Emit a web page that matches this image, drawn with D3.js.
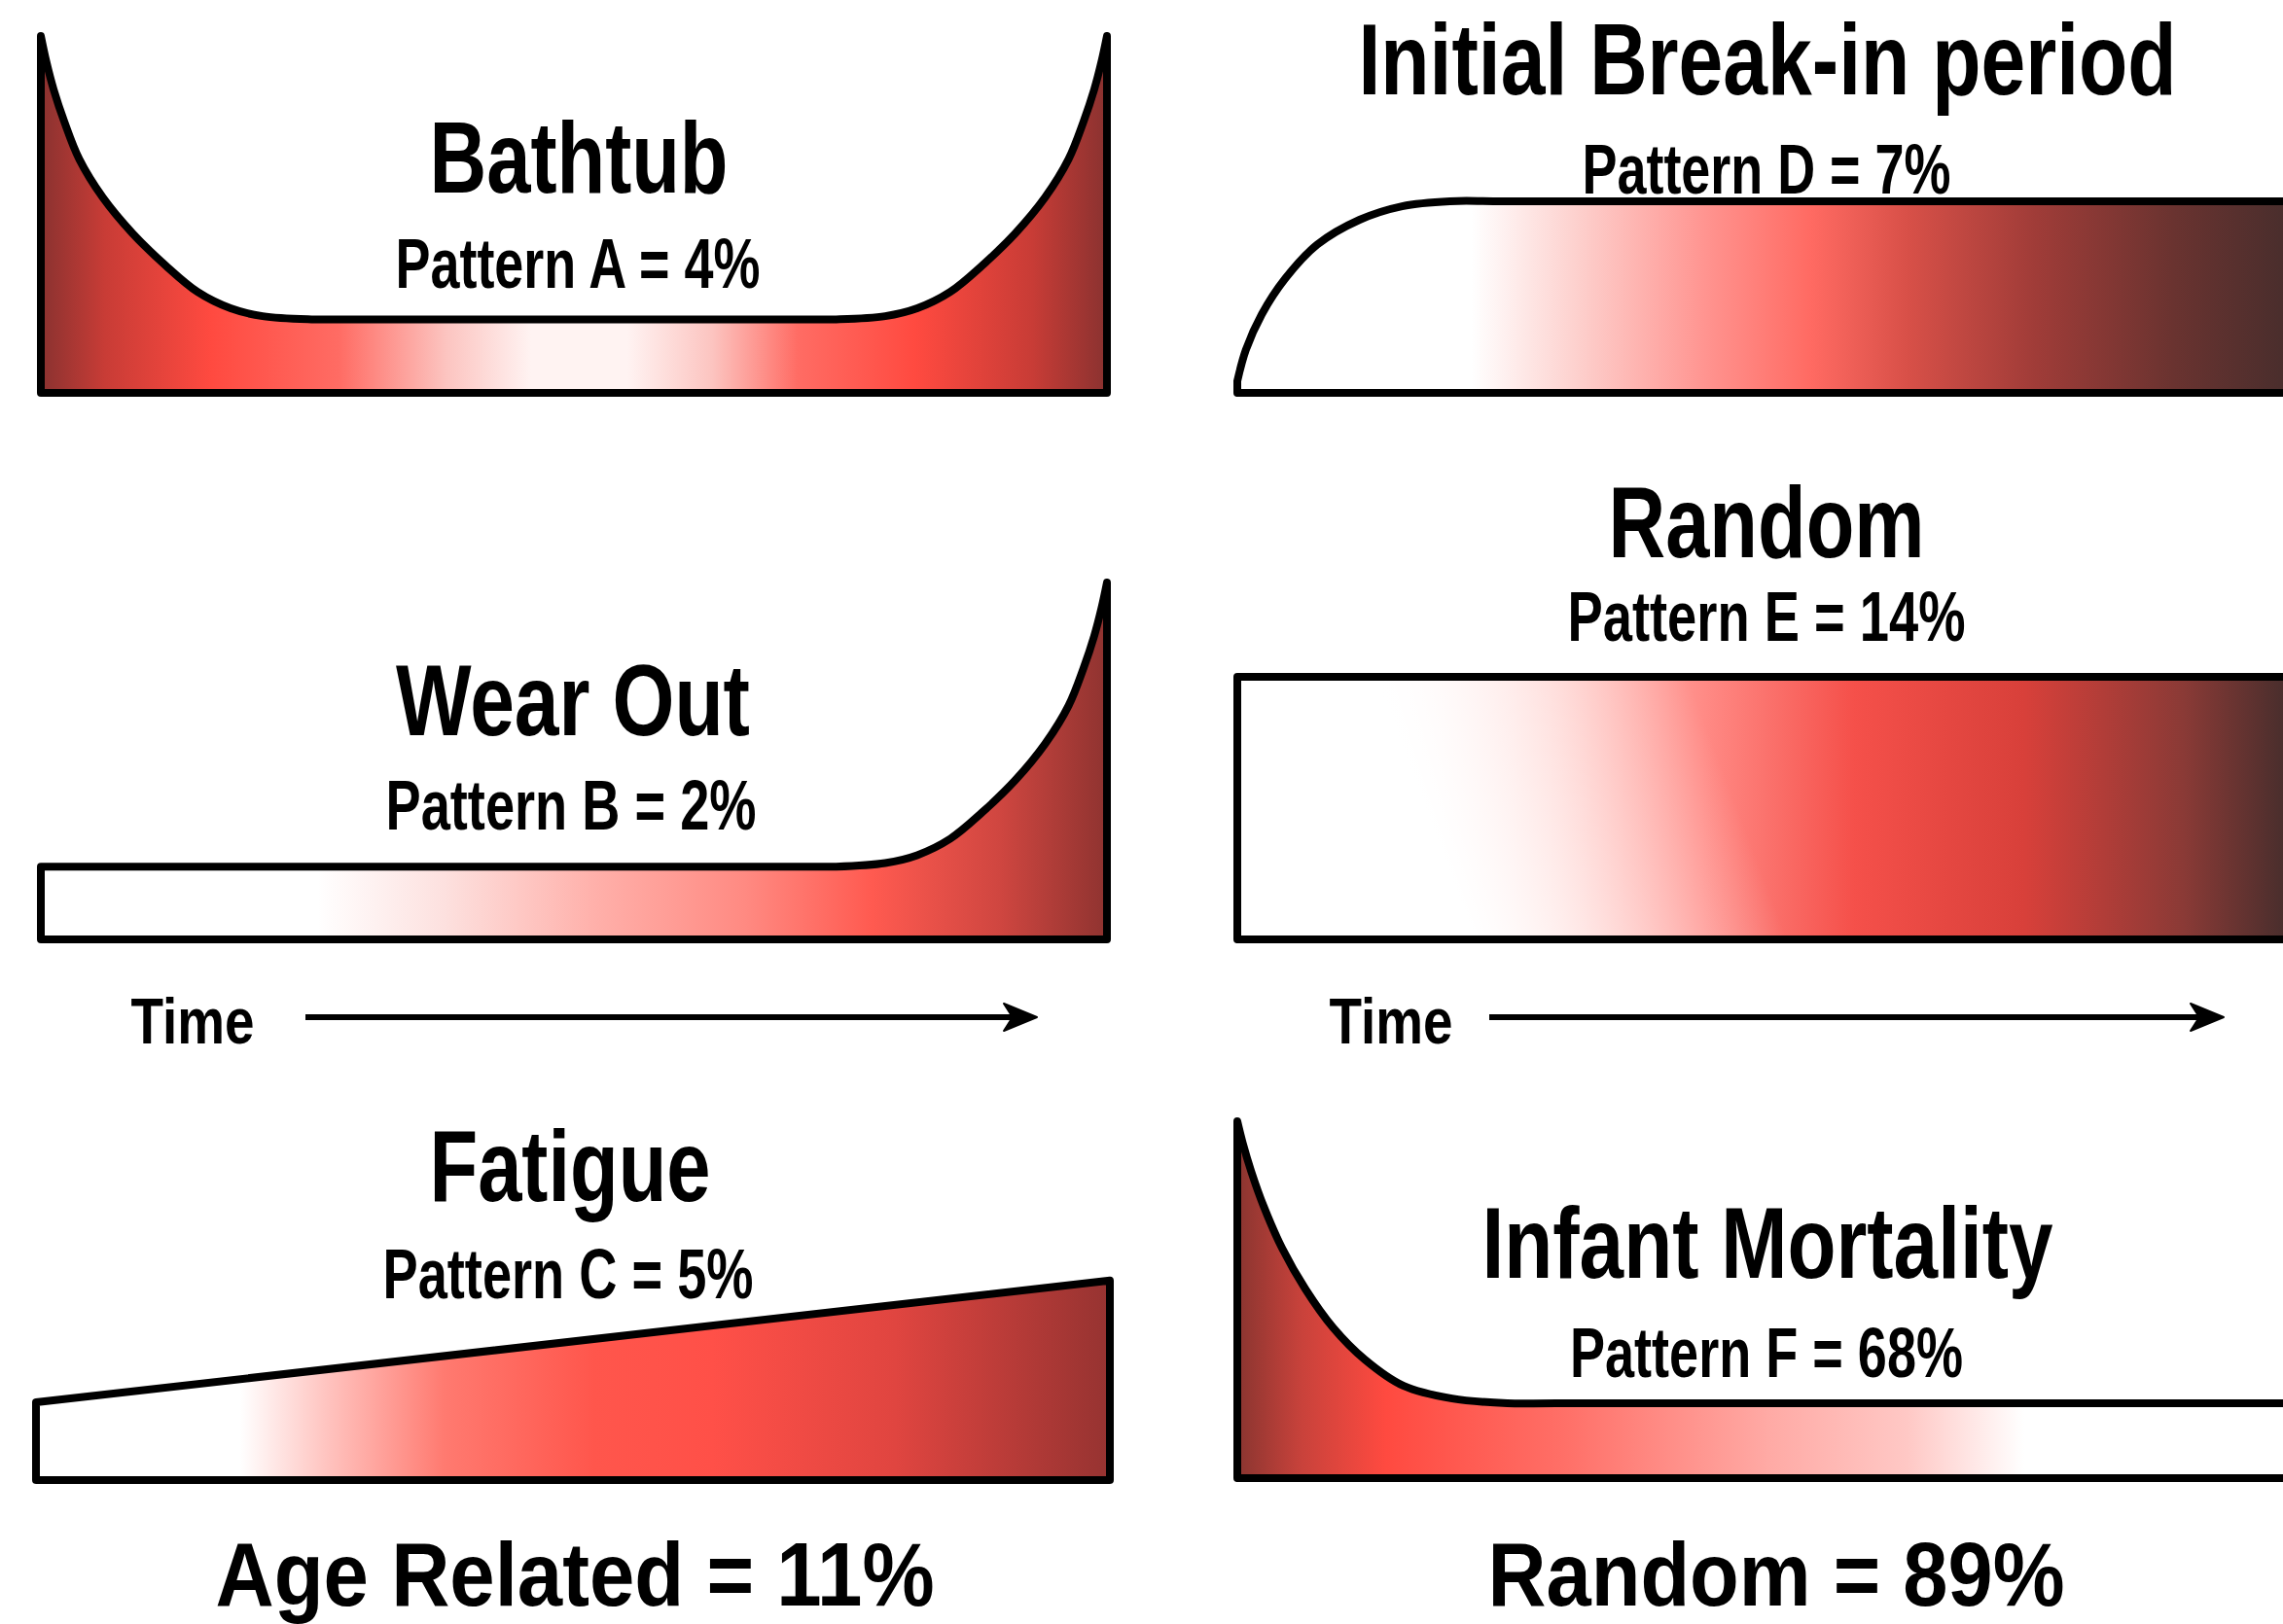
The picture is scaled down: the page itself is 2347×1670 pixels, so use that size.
<!DOCTYPE html>
<html>
<head>
<meta charset="utf-8">
<script src="https://cdn.jsdelivr.net/npm/d3@7"></script>
<style>
body { margin: 0; background: #fff; }
svg { display: block; }
</style>
</head>
<body>
<script>
// six failure patterns, share of components
var patternNames = ["Bathtub", "Wear Out", "Fatigue", "Initial Break-in period", "Random", "Infant Mortality"];
var patternCodes = ["A", "B", "C", "D", "E", "F"];
var patternShares = [4, 2, 5, 7, 14, 68];
var groupNames = ["Age Related", "Random"];
var groupShares = [11, 89];
var axisLabel = "Time";

// conditional probability of failure (0-100) against time (0-100)
var curveA = [[0,100],[0.5,93],[1.2,85],[2.2,76],[3.6,65.5],[5.8,54.8],[8.6,44.7],[11.7,35.7],[14.7,28.3],[17.8,23.7],[20.8,21.5],[25.4,20.6],[30,20.6],
              [70,20.6],[74.6,20.6],[79.2,21.5],[82.2,23.7],[85.3,28.3],[88.3,35.7],[91.4,44.7],[94.2,54.8],[96.4,65.5],[97.8,76],[98.8,85],[99.5,93],[100,100]];
var curveB = [[0,20.4],[70,20.4],[74.6,20.4],[79.2,21.4],[82.2,23.6],[85.3,28.2],[88.3,35.6],[91.4,44.6],[94.2,54.8],[96.4,65.5],[97.8,76],[98.8,85],[99.5,93],[100,100]];
var curveC = [[0,21.8],[100,55.9]];
var curveD = [[0,3.3],[0.8,12],[2.3,22],[4.5,32],[7.5,41.5],[11.5,48.5],[15.5,52.3],[20,53.7],[25,53.7],[100,53.7]];
var curveE = [[0,73.6],[100,73.6]];
var curveF = [[0,100],[0.5,94],[1.3,86],[2.5,76],[4.2,64.5],[6.4,53],[9,42.2],[12,33.2],[15.6,25.9],[20.2,22.3],[25.4,21],[30,21],[100,21]];
var curves = [curveA, curveB, curveC, curveD, curveE, curveF];

// ---- layout / style (not data) ----
var W = 2347, H = 1670;
var panels = [
    {x0: 42, x1: 1138, yb: 404, yt: 37},
    {x0: 42, x1: 1138, yb: 966, yt: 599},
    {x0: 37, x1: 1141, yb: 1522, yt: 1155},
    {x0: 1272, x1: 2365, yb: 404, yt: 37},
    {x0: 1272, x1: 2365, yb: 966, yt: 599},
    {x0: 1272, x1: 2365, yb: 1520, yt: 1153}
];
// gradient stops, position in time units
var fills = [
    [[0,"#8a3230"],[6,"#c83c36"],[16,"#ff4a40"],[28,"#ff6c64"],[38,"#fcc4c0"],[46,"#fff3f2"],[55,"#fff3f2"],[63,"#fcc4c0"],[71,"#ff6c64"],[82,"#ff4a40"],[93,"#c83c36"],[100,"#8a3230"]],
    [[0,"#ffffff"],[26,"#ffffff"],[38,"#fde0de"],[52,"#ffb0aa"],[66,"#ff8a82"],[78,"#ff5a50"],[90,"#cf4640"],[100,"#8f3330"]],
    [[0,"#ffffff"],[19,"#ffffff"],[27,"#ffc4c0"],[38,"#ff7a70"],[52,"#ff564c"],[63,"#ff5048"],[80,"#e04540"],[100,"#963331"]],
    [[0,"#ffffff"],[22,"#ffffff"],[32,"#fdd0cd"],[44,"#ff9490"],[54,"#ff6a62"],[63,"#d85048"],[75,"#a03c38"],[88,"#6a3330"],[100,"#452d2c"]],
    [[0,"#ffffff"],[12,"#ffffff"],[30,"#ffc6c2"],[44,"#ff8a85"],[58,"#f5504a"],[74,"#d8403a"],[89,"#8a3a36"],[100,"#3f2c2b"]],
    [[0,"#8a3530"],[6,"#c8423b"],[14,"#ff4a40"],[31,"#ff7068"],[50,"#ffaaa5"],[63,"#ffc8c5"],[74,"#ffffff"],[100,"#ffffff"]]
];
var titlePos = [
    {x: 595, y: 198, w: 307}, {x: 589, y: 756, w: 364}, {x: 586, y: 1235, w: 289},
    {x: 1817, y: 97, w: 841}, {x: 1816, y: 573, w: 325}, {x: 1817, y: 1314, w: 587}
];
var subPos = [
    {x: 594, y: 296, w: 375}, {x: 587, y: 853, w: 381}, {x: 584, y: 1335, w: 381},
    {x: 1816, y: 199, w: 379}, {x: 1816, y: 659, w: 409}, {x: 1816, y: 1416, w: 404}
];
var groupPos = [{x: 591, y: 1651, w: 739}, {x: 1826, y: 1651, w: 593}];
var timePos = [{x: 198, y: 1073, w: 127, ax0: 314, ax1: 1066, ay: 1046}, {x: 1430, y: 1073, w: 127, ax0: 1531, ax1: 2286, ay: 1046}];

var fontFamily = "'Liberation Sans Narrow', 'Arial Narrow', 'Liberation Sans', Arial, sans-serif";
var stretchY = 1.12;   //lettering in the picture is taller than the font's own shape

var svg = d3.select("body").append("svg")
    .attr("width", W)
    .attr("height", H);
var defs = svg.append("defs");

svg.append("rect").attr("width", W).attr("height", H).attr("fill", "#fff");

panels.forEach(function(p, i) {
    var x = d3.scaleLinear().domain([0, 100]).range([p.x0, p.x1]);
    var y = d3.scaleLinear().domain([0, 100]).range([p.yb, p.yt]);

    var grad = defs.append("linearGradient")
        .attr("id", "fill" + i)
        .attr("gradientUnits", "userSpaceOnUse")
        .attr("x1", x(0)).attr("x2", x(100))
        .attr("y1", 0).attr("y2", 0);
    grad.selectAll("stop").data(fills[i]).enter().append("stop")
        .attr("offset", function(d) { return d[0] / 100; })
        .attr("stop-color", function(d) { return d[1]; });

    var area = d3.area()
        .x(function(d) { return x(d[0]); })
        .y0(y(0))
        .y1(function(d) { return y(d[1]); })
        .curve(d3.curveCatmullRom.alpha(0.5));

    svg.append("path")
        .datum(curves[i])
        .attr("d", area)
        .attr("fill", "url(#fill" + i + ")");

    //pattern E: white edge is slanted, lay a tilted white fade on top
    if (i == 4) {
        var ang = Math.atan(140 / (p.yb - p.yt));
        var ym = (p.yb + p.yt) / 2;
        var sx = x(16), len = 300;
        var wg = defs.append("linearGradient")
            .attr("id", "whiteFade")
            .attr("gradientUnits", "userSpaceOnUse")
            .attr("x1", sx).attr("y1", ym)
            .attr("x2", sx + len * Math.cos(ang)).attr("y2", ym - len * Math.sin(ang));
        wg.append("stop").attr("offset", 0).attr("stop-color", "#fff").attr("stop-opacity", 1);
        wg.append("stop").attr("offset", 1).attr("stop-color", "#fff").attr("stop-opacity", 0);
        svg.append("path")
            .datum(curves[i])
            .attr("d", area)
            .attr("fill", "url(#whiteFade)");
    }

    svg.append("path")
        .datum(curves[i])
        .attr("d", area)
        .attr("fill", "none")
        .attr("stroke", "#000")
        .attr("stroke-width", 8)
        .attr("stroke-linejoin", "round");
});

function label(pos, size, str) {
    svg.append("text")
        .attr("transform", "translate(" + pos.x + "," + pos.y + ") scale(1," + stretchY + ")")
        .attr("text-anchor", "middle")
        .attr("font-family", fontFamily)
        .attr("font-weight", "bold")
        .attr("font-size", size / stretchY)
        .attr("textLength", pos.w)
        .attr("lengthAdjust", "spacingAndGlyphs")
        .attr("fill", "#000")
        .text(str);
}

patternNames.forEach(function(n, i) {
    label(titlePos[i], 103, n);
    label(subPos[i], 72, "Pattern " + patternCodes[i] + " = " + patternShares[i] + "%");
});
groupNames.forEach(function(n, i) {
    label(groupPos[i], 92, n + " = " + groupShares[i] + "%");
});

timePos.forEach(function(t) {
    label(t, 66, axisLabel);
    svg.append("line")
        .attr("x1", t.ax0).attr("x2", t.ax1 - 20)
        .attr("y1", t.ay).attr("y2", t.ay)
        .attr("stroke", "#000")
        .attr("stroke-width", 6);
    svg.append("path")
        .attr("d", "M" + t.ax1 + " " + t.ay + " L" + (t.ax1 - 34) + " " + (t.ay - 14) +
            " L" + (t.ax1 - 25) + " " + t.ay + " L" + (t.ax1 - 34) + " " + (t.ay + 14) + " Z")
        .attr("fill", "#000")
        .attr("stroke", "#000")
        .attr("stroke-width", 2)
        .attr("stroke-linejoin", "round");
});
</script>
</body>
</html>
